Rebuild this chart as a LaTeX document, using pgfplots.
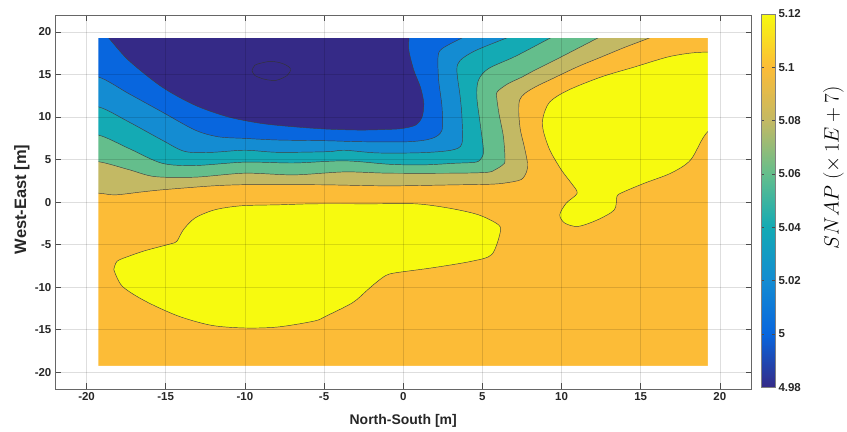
\documentclass[border=0pt]{standalone}
\usepackage{fontspec}
\setmainfont{Liberation Sans}
\usepackage{pgfplots}
\pgfplotsset{compat=1.18}
\definecolor{c0}{RGB}{53,42,135}
\definecolor{c1}{RGB}{8,102,222}
\definecolor{c2}{RGB}{20,140,210}
\definecolor{c3}{RGB}{20,170,180}
\definecolor{c4}{RGB}{100,190,140}
\definecolor{c5}{RGB}{195,185,100}
\definecolor{c6}{RGB}{252,188,55}
\definecolor{c7}{RGB}{247,250,15}
\begin{document}
\begin{tikzpicture}
\path (-55pt,-42pt) rectangle (792pt,390pt);
\begin{axis}[
  at={(0,0)}, anchor=south west,
  scale only axis, width=698pt, height=375pt,
  xmin=-22, xmax=22, ymin=-22, ymax=22,
  xtick={-20,-15,...,20}, ytick={-20,-15,...,20},
  grid=major, major grid style={draw=black, opacity=0.13, line width=0.5pt},
  axis on top,
  tick align=inside, major tick length=6pt,
  axis line style={draw=black!60, line width=0.6pt},
  tick style={draw=black!70, line width=0.5pt},
  ticklabel style={font=\bfseries\fontsize{11.5}{13}\selectfont, text=black!85},
  /pgf/number format/assume math mode=true,
  xlabel={North-South [m]}, ylabel={West-East [m]},
  xlabel style={at={(axis description cs:0.5,-0.0933)}, anchor=base, font=\bfseries\fontsize{14}{16}\selectfont, text=black!85},
  ylabel style={at={(axis description cs:-0.0473,0.507)}, anchor=center, font=\bfseries\fontsize{16.5}{18}\selectfont, text=black!85},
  colormap={parula}{rgb255=(53,42,135) rgb255=(8,102,222) rgb255=(20,140,210) rgb255=(20,170,180) rgb255=(100,190,140) rgb255=(195,185,100) rgb255=(252,188,55) rgb255=(247,250,15)},
  point meta min=4.98, point meta max=5.12,
  colorbar,
  colorbar style={
    at={(parent axis.north east)}, anchor=north west, xshift=1pt, yshift=1pt,
    scale only axis, width=14pt, height=374pt,
    ytick={4.98,5,5.02,5.04,5.06,5.08,5.1,5.12},
    yticklabel style={font=\bfseries\fontsize{11.5}{13}\selectfont, text=black!85, /pgf/number format/.cd, fixed, precision=2, assume math mode=true},
    axis line style={draw=black!50, line width=0.5pt},
    major tick length=3pt, tick align=inside,
  },
]
% background (z >= 5.10)
\addplot[fill=c6, draw=none] coordinates {(-21,-21) (21,-21) (21,21) (-21,21) (-21,-21)};
% z < 5.10
\addplot[fill=c5, draw=black!75, line width=0.45pt, smooth, tension=0.5] coordinates {
(-21,21) (-21,1.05) (-19.25,1.05) (-18.2,0.85) (-16.5,1.2) (-15.2,1.45) (-12.1,1.9) (-10,2.05) (-7,2.05) (-4.8,2.03) (-0.9,1.91) (3.3,2.03) (5.5,2.1) (6.45,2.25) (7.45,2.65) (7.8,3.6) (7.85,4.6) (7.65,6.5) (7.4,8.5) (7.3,10.5) (7.35,12.0) (7.7,12.8) (8.4,13.6) (9.3,14.4) (11.0,15.9) (12.5,17.05) (14.0,18.2) (15.55,19.3) (16.8,20.3) (16.8,21) (-21,21)};
% z < 5.08
\addplot[fill=c4, draw=black!75, line width=0.45pt, smooth, tension=0.5] coordinates {
(-21,21) (-21,4.75) (-19.25,4.75) (-17.3,3.8) (-15.7,3.0) (-13.15,2.93) (-10,3.4) (-6.9,3.2) (-3.7,3.55) (-0.9,3.4) (3.3,3.4) (5.3,3.5) (5.8,3.8) (6.3,4.4) (6.43,4.95) (6.33,7.68) (6.05,10.4) (5.9,12.4) (5.95,13.0) (6.6,13.9) (7.5,14.7) (8.3,15.5) (9.8,16.9) (12.3,19.3) (13.5,20.4) (13.5,21) (-21,21)};
% z < 5.06
\addplot[fill=c3, draw=black!75, line width=0.45pt, smooth, tension=0.5] coordinates {
(-21,21) (-21,7.88) (-19.25,7.88) (-17.34,6.32) (-15.24,4.57) (-13.15,4.3) (-10,4.7) (-6.9,4.6) (-3.7,4.85) (-0.9,4.45) (1.2,4.37) (3.3,4.57) (4.6,4.7) (4.95,5.2) (5.07,6.12) (4.86,9.25) (4.65,12.37) (4.75,14.32) (5.38,15.69) (7.1,17.15) (9.3,19.3) (10.5,20.4) (10.5,21) (-21,21)};
% z < 5.04
\addplot[fill=c2, draw=black!75, line width=0.45pt, smooth, tension=0.5] coordinates {
(-21,21) (-21,11.2) (-19.25,11.2) (-17.34,9.44) (-15.24,7.3) (-13.78,5.95) (-12.1,5.85) (-10,6.1) (-7.91,5.85) (-4.77,5.93) (-3.72,6.1) (-1.63,5.78) (1.19,5.81) (3.08,6.12) (3.71,6.9) (3.71,10.0) (3.6,12.37) (3.39,15.5) (3.6,16.66) (4.55,17.8) (6.53,19.3) (8.0,20.4) (8.0,21) (-21,21)};
% z < 5.02
\addplot[fill=c1, draw=black!75, line width=0.45pt, smooth, tension=0.5] coordinates {
(-21,21) (-21,14.71) (-19.25,14.71) (-17.34,12.76) (-15.24,10.61) (-13.15,8.47) (-11.68,7.68) (-10,7.49) (-7.91,7.3) (-4.77,7.21) (-2.68,7.1) (0.36,7.1) (1.82,7.49) (2.45,8.47) (2.45,11.2) (2.24,14.32) (2.2,17.05) (2.45,18.03) (3.71,19.3) (5.0,20.4) (5.0,21) (-21,21)};
% z < 5.00
\addplot[fill=c0, draw=black!75, line width=0.45pt, smooth, tension=0.5] coordinates {
(-20.5,21) (-19.2,20.6) (-18.6,19.3) (-17.34,16.66) (-15.24,13.54) (-13.15,11.39) (-11.06,10.02) (-8.96,9.25) (-6.87,8.85) (-4.77,8.58) (-2.68,8.47) (-0.9,8.55) (-0.06,8.66) (0.78,9.05) (1.19,10.0) (1.3,11.6) (1.09,13.5) (0.67,15.5) (0.36,17.8) (0.36,19.3) (0.36,21) (-20.5,21)};
% z < 4.98 (closed contour)
\addplot[draw=black!80, line width=0.45pt, smooth, tension=0.5] coordinates {
(-9.55,15.49) (-9.38,16.08) (-8.96,16.35) (-8.33,16.55) (-7.6,16.28) (-7.12,15.69) (-7.32,14.9) (-8.02,14.32) (-8.75,14.44) (-9.38,14.9) (-9.55,15.49)};
% z > 5.12, left island
\addplot[fill=c7, draw=black!75, line width=0.45pt, smooth, tension=0.5] coordinates {
(-18.28,-7.93) (-18.07,-6.95) (-17.34,-6.37) (-16.29,-5.7) (-14.72,-4.92) (-14.3,-4.61) (-13.88,-3.24) (-13.15,-1.87) (-11.89,-0.9) (-10.21,-0.43) (-7.91,-0.32) (-5.61,-0.2) (-2,-0.2) (0.78,-0.2) (2.87,-0.7) (4.75,-1.49) (6.01,-2.66) (6.12,-3.63) (5.59,-6.17) (4.33,-6.95) (1.82,-7.73) (-0.48,-8.31) (-1.1,-8.63) (-1.73,-9.49) (-2.3,-10.4) (-3.2,-11.83) (-4.87,-13.4) (-5.61,-13.98) (-7.91,-14.68) (-10.0,-14.8) (-12.1,-14.49) (-14.2,-13.4) (-16.29,-11.64) (-17.75,-9.88) (-18.28,-7.93)};
% z > 5.12, right island
\addplot[fill=c7, draw=black!75, line width=0.45pt, smooth, tension=0.5] coordinates {
(21,17.64) (19.25,17.64) (18.15,17.52) (16.69,17.05) (14.6,15.88) (12.5,14.71) (10.41,13.15) (9.26,11.78) (8.84,10.02) (8.84,8.47) (9.26,6.12) (9.99,3.78) (10.62,2.22) (10.99,1.05) (10.3,-0.12) (9.89,-1.49) (10.2,-2.46) (11.04,-2.86) (12.29,-2.07) (13.34,-0.9) (13.5,0.66) (13.8,1.1) (15.23,2.22) (16.9,3.4) (18.15,4.95) (19.25,8.3) (21,9.5) (21,17.64)};
% blank margin round the data
\addplot[fill=white, draw=none] coordinates {(-23,-23) (-19.25,-23) (-19.25,23) (-23,23) (-23,-23)};
\addplot[fill=white, draw=none] coordinates {(19.25,-23) (23,-23) (23,23) (19.25,23) (19.25,-23)};
\addplot[fill=white, draw=none] coordinates {(-23,19.3) (23,19.3) (23,23) (-23,23) (-23,19.3)};
\addplot[fill=white, draw=none] coordinates {(-23,-23) (23,-23) (23,-19.25) (-23,-19.25) (-23,-23)};
\end{axis}
\node[rotate=90, anchor=center, font=\fontsize{22}{25}\selectfont] at (780pt,222pt) {$SNAP\ (\times\,1E+7)$};
\end{tikzpicture}
\end{document}
